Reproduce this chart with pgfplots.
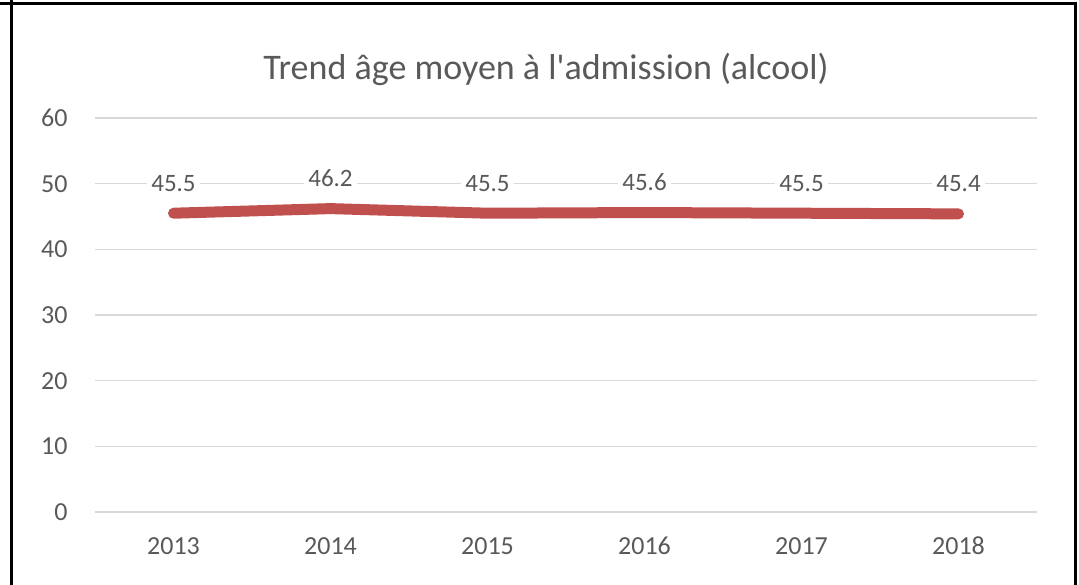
\documentclass[border=0pt]{standalone}
\usepackage{fontspec}
\setmainfont{Carlito}[Ligatures=TeXOff]
\usepackage{pgfplots}
\pgfplotsset{compat=1.18}
\definecolor{txt}{HTML}{595959}
\definecolor{gridc}{HTML}{D9D9D9}
\definecolor{serie}{HTML}{C0504D}
\begin{document}
\begin{tikzpicture}[x=1bp,y=1bp]
\useasboundingbox (0,0) rectangle (1079,585);
% cadre
\draw[line width=3bp] (0,581) -- (1075,581);
\draw[line width=3bp] (11,585) -- (11,0);
\draw[line width=3bp] (1075,582.5) -- (1075,0);
% titre
\node[text=txt, font=\fontsize{36bp}{42bp}\selectfont] at (546,516) {Trend âge moyen à l'admission (alcool)};
\begin{axis}[
    at={(95bp,73bp)}, anchor=south west,
    scale only axis,
    width=942bp, height=394bp,
    xmin=-0.5, xmax=5.5,
    ymin=0, ymax=60,
    xtick={0,1,2,3,4,5},
    xticklabels={2013,2014,2015,2016,2017,2018},
    ytick={0,10,20,30,40,50,60},
    axis line style={draw=none},
    tick style={draw=none},
    ymajorgrids,
    grid style={gridc, line width=1.5bp},
    ticklabel style={text=txt, font=\fontsize{26bp}{30bp}\selectfont},
    /pgf/number format/assume math mode=true,
    yticklabel style={xshift=-24bp},
    xticklabel style={anchor=base, yshift=-43bp},
    clip=false,
]
\addplot[serie, line width=11bp, line cap=round, line join=round,
    nodes near coords,
    point meta=explicit,
    every node near coord/.style={anchor=center, yshift=30bp, fill=white,
        inner sep=4bp, text=txt, font=\fontsize{25bp}{29bp}\selectfont,
        /pgf/number format/.cd, fixed, fixed zerofill, precision=1, assume math mode=true},
] coordinates {
    (0,45.5) [45.5]
    (1,46.2) [46.2]
    (2,45.5) [45.5]
    (3,45.6) [45.6]
    (4,45.5) [45.5]
    (5,45.4) [45.4]
};
\end{axis}
\end{tikzpicture}
\end{document}
